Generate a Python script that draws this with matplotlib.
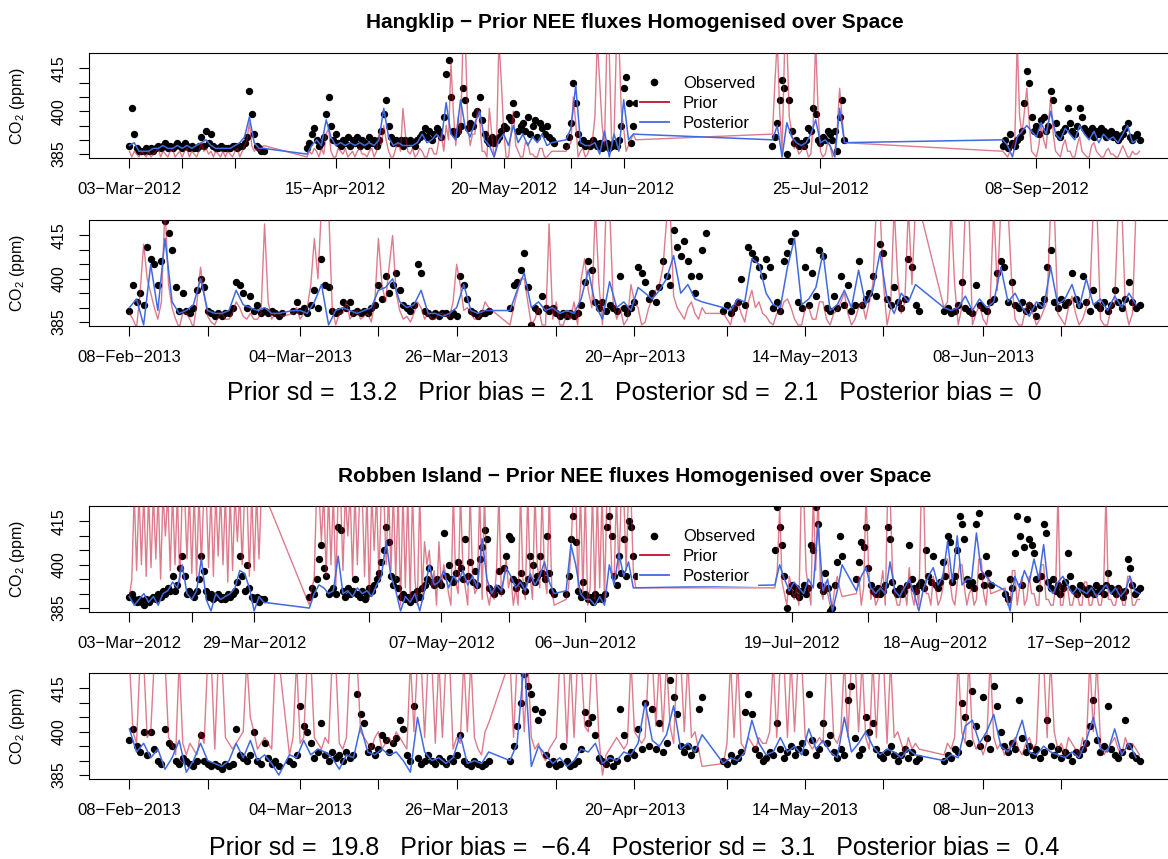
"""Observed vs prior/posterior CO2 at Hangklip and Robben Island (NEE homogenised over space)."""

import numpy as np
import matplotlib

matplotlib.use("Agg")
import matplotlib.pyplot as plt
from matplotlib.lines import Line2D

plt.rcParams["font.family"] = ["Liberation Sans", "DejaVu Sans"]
plt.rcParams["mathtext.fontset"] = "custom"
plt.rcParams["mathtext.rm"] = "Liberation Sans"
plt.rcParams["mathtext.it"] = "Liberation Sans:italic"

OBS_STEP_H = 12
PRIOR_STEP_H = 12
POST_STEP_H = 24

OBS_COLOR = "black"
PRIOR_COLOR = "#C0102E"
POST_COLOR = "#4169E1"

Y_TICKS = [385, 390, 395, 400, 405, 410, 415]
Y_TICK_LABELS = ["385", "", "", "400", "", "", "415"]

# ---- Hangklip 2012 -------------------------------------------------------
P1_ORIGIN = "2012-03-03T00"
P1_START = ["2012-03-03T00", "2012-04-09T00", "2012-06-02T00", "2012-07-15T00", "2012-09-01T00"]
P1_OBS = [
    [388, 401, 392, 387, 386, 386, 386, 387, 386, 387,
     386, 387, 388, 387, 388, 389, 387, 388, 387, 388,
     389, 388, 387, 389, 388, 387, 388, 387, 387, 388,
     391, 388, 393, 389, 392, 388, 387, 387, 388, 387,
     387, 387, 387, 388, 388, 387, 388, 388, 389, 391,
     407, 399, 392, 388, 387, 386, 386],
    [387, 389, 392, 394, 390, 388, 389, 391, 399, 405,
     395, 390, 392, 389, 388, 390, 389, 391, 388, 390,
     389, 391, 388, 390, 389, 388, 391, 389, 390, 388,
     390, 393, 399, 404, 395, 391, 389, 390, 389, 390,
     388, 390, 389, 390, 389, 388, 390, 391, 392, 394,
     391, 393, 390, 392, 394, 393, 391, 398, 413, 418,
     405, 393, 392, 393, 395, 408, 404, 394, 396, 395,
     399, 400, 405, 397, 392, 390, 389, 391, 389, 390,
     391, 393, 395, 394, 398, 397, 403, 399, 393, 395,
     396, 393, 398, 392, 395, 397, 391, 396, 394, 392,
     395, 391, 390, 389],
    [388, 391, 396, 410, 403, 392, 389, 390, 388, 389,
     388, 390, 389, 388, 389, 387, 388, 389, 387, 388,
     389, 388, 390, 395, 408, 412, 403, 389, 395, 403],
    [388, 391, 396, 404, 411, 408, 385, 404, 393, 389,
     390, 388, 389, 388, 390, 394, 393, 401, 399, 390,
     389, 391, 390, 393, 392, 390, 393, 386, 398, 404, 390],
    [388, 390, 387, 392, 389, 388, 390, 391, 393, 403,
     414, 410, 398, 393, 395, 392, 397, 398, 393, 395,
     407, 404, 396, 392, 391, 393, 394, 401, 396, 393,
     392, 395, 401, 398, 394, 393, 392, 394, 391, 393,
     392, 394, 393, 391, 392, 393, 391, 392, 390, 391,
     392, 394, 396, 391, 390, 391, 392, 390],
]
P1_POST = [
    [388, 389, 386, 386, 386, 387, 387, 388, 387, 387, 388, 387, 388, 387, 388,
     389, 390, 388, 387, 387, 387, 387, 388, 389, 391, 398, 389, 387, 387],
    [385, 388, 390, 388, 397, 391, 388, 389, 388, 389, 388, 389, 388, 389, 388,
     390, 401, 391, 388, 389, 388, 388, 388, 389, 392, 389, 390, 392, 390, 403,
     392, 390, 404, 394, 391, 396, 400, 390, 388, 384, 390, 392, 388, 395, 389,
     392, 388, 391, 389, 392, 388, 389],
    [390, 394, 409, 389, 388, 388, 389, 385, 393, 384, 392, 386, 404, 390, 392],
    [390, 395, 384, 396, 391, 389, 388, 389, 392, 397, 389, 390, 388, 384, 401, 389],
    [390, 388, 384, 391, 393, 395, 393, 391, 396, 392, 400, 392, 390, 394, 392,
     390, 395, 392, 390, 393, 389, 392, 390, 391, 389, 392, 395, 389, 390],
]
P1_PRIOR = [
    [386, 384, 386, 385, 384, 386, 385, 384, 386, 384,
     385, 386, 387, 384, 386, 385, 384, 386, 387, 384,
     385, 386, 384, 386, 387, 384, 386, 385, 384, 386,
     389, 386, 387, 385, 386, 384, 386, 385, 384, 386,
     384, 386, 385, 384, 386, 387, 384, 386, 388, 390,
     396, 388, 386, 387, 386, 387, 388],
    [384, 386, 385, 387, 386, 384, 387, 385, 392, 394,
     386, 384, 384, 387, 386, 385, 387, 384, 385, 386,
     384, 386, 387, 385, 385, 384, 386, 387, 384, 386,
     392, 388, 395, 390, 386, 384, 384, 387, 389, 386,
     401, 392, 386, 385, 387, 384, 385, 387, 386, 384,
     384, 387, 387, 385, 385, 390, 392, 386, 395, 390,
     417, 400, 388, 398, 392, 425, 425, 396, 388, 392,
     392, 401, 397, 386, 386, 384, 401, 392, 384, 388,
     425, 410, 393, 384, 384, 392, 400, 388, 386, 384,
     384, 389, 389, 385, 385, 384, 384, 387, 387, 384,
     384, 385, 386, 386],
    [386, 388, 389, 405, 396, 384, 386, 387, 384, 385,
     388, 390, 398, 425, 410, 395, 388, 425, 420, 388,
     392, 425, 425, 400, 394, 386, 388, 390, 392, 390],
    [392, 410, 425, 400, 386, 420, 425, 398, 393, 387,
     388, 385, 386, 388, 387, 384, 385, 396, 425, 400,
     386, 384, 385, 389, 388, 384, 386, 394, 408, 398, 389],
    [386, 385, 384, 386, 388, 390, 425, 398, 392, 400,
     408, 396, 386, 385, 384, 388, 395, 390, 387, 396,
     405, 392, 386, 385, 384, 388, 390, 386, 386, 384,
     384, 388, 391, 386, 385, 384, 384, 388, 389, 386,
     385, 384, 384, 386, 387, 385, 385, 384, 384, 386,
     388, 386, 384, 384, 386, 385, 385, 386],
]
P1_TICK_DATES = ["2012-03-03", "2012-03-14", "2012-03-25", "2012-04-15", "2012-04-26",
                 "2012-05-09", "2012-05-20", "2012-06-03", "2012-06-14", "2012-07-25",
                 "2012-09-08", "2012-09-19"]
P1_TICK_LABELS = ["03-Mar-2012", "", "", "15-Apr-2012", "", "", "20-May-2012", "",
                  "14-Jun-2012", "25-Jul-2012", "08-Sep-2012", ""]

# ---- Hangklip 2013 -------------------------------------------------------
P2_ORIGIN = "2013-02-08T00"
P2_START = ["2013-02-08T00", "2013-03-03T00", "2013-04-02T12", "2013-05-02T12", "2013-06-02T12"]
P2_OBS = [
    [389, 398, 392, 395, 391, 411, 407, 405, 398, 406,
     420, 416, 410, 397, 389, 395, 389, 388, 390, 396,
     400, 397, 389, 388, 387, 388, 387, 388, 388, 390,
     399, 398, 395, 390, 394, 389, 391, 388, 389, 388,
     389, 388, 387, 388],
    [389, 392, 389, 390, 388, 391, 396, 390, 407, 398,
     397, 389, 388, 389, 392, 390, 392, 388, 389, 388,
     389, 388, 390, 391, 398, 393, 401, 395, 398, 402,
     396, 391, 390, 389, 391, 405, 402, 389, 388, 387,
     388, 387, 388, 388, 387, 388, 387, 401, 398, 393,
     389, 388, 387, 388, 388, 389],
    [390, 398, 399, 403, 409, 397, 384, 390, 389, 394,
     390, 389, 390, 388, 387, 388, 387, 388, 387, 388,
     391, 399, 406, 403, 392, 390, 392, 389, 391, 390,
     389, 401, 390, 388, 390, 392, 404, 402, 399, 393,
     395, 392, 397, 406, 401, 398, 417, 411, 408, 413,
     406, 401, 395, 401, 410, 416],
    [389, 391, 388, 390, 392, 400, 391, 411, 409, 407,
     404, 401, 407, 404, 390, 392, 389, 406, 409, 413,
     416, 392, 390, 404, 391, 402, 394, 410, 408, 390,
     389, 394, 390, 401, 391, 398, 389, 391, 406, 391,
     393, 395, 401, 394, 412, 409, 393, 391, 397, 392,
     390, 393, 407, 404, 391, 389],
    [389, 390, 388, 389, 391, 399, 390, 389, 388, 398,
     391, 390, 389, 392, 393, 402, 406, 404, 392, 399,
     391, 390, 392, 389, 391, 390, 387, 391, 393, 404,
     410, 392, 390, 393, 391, 392, 402, 393, 391, 401,
     392, 389, 396, 391, 390, 392, 389, 391, 396, 392,
     390, 393, 399, 392, 390, 391],
]
P2_POST = [
    [390, 393, 384, 405, 389, 414, 392, 388, 389, 391, 400, 389, 388, 388, 389,
     396, 391, 390, 389, 390, 388, 388],
    [389, 389, 388, 392, 398, 384, 389, 390, 389, 388, 389, 390, 396, 397, 400,
     392, 390, 391, 396, 388, 388, 387, 388, 390, 398, 389, 388, 389],
    [389, 396, 402, 390, 392, 389, 390, 388, 389, 388, 393, 403, 391, 386, 399,
     390, 392, 389, 397, 395, 393, 396, 400, 408, 395, 398, 393, 392],
    [390, 389, 393, 392, 407, 405, 395, 391, 390, 404, 414, 391, 393, 397, 409,
     389, 391, 396, 390, 403, 391, 396, 409, 393, 388, 395, 392, 398],
    [390, 389, 390, 394, 389, 393, 390, 392, 404, 392, 395, 390, 387, 392, 390,
     404, 391, 393, 398, 390, 400, 391, 393, 389, 394, 390, 395, 391],
]
P2_PRIOR = [
    [388, 386, 383, 395, 412, 400, 395, 390, 386, 392,
     425, 398, 390, 386, 383, 388, 388, 386, 383, 392,
     404, 395, 387, 385, 384, 387, 388, 386, 386, 388,
     392, 390, 387, 386, 388, 386, 386, 388, 419, 392,
     386, 388, 388, 387],
    [388, 390, 386, 388, 390, 398, 414, 400, 425, 420,
     425, 390, 384, 388, 388, 392, 386, 388, 389, 386,
     387, 388, 385, 392, 414, 398, 392, 404, 415, 395,
     389, 386, 387, 385, 388, 392, 390, 386, 388, 386,
     386, 388, 388, 387, 387, 392, 405, 398, 389, 390,
     388, 386, 386, 388, 392, 390],
    [384, 390, 395, 400, 400, 392, 384, 386, 390, 384,
     384, 419, 386, 392, 384, 384, 388, 386, 392, 384,
     400, 407, 396, 390, 425, 398, 384, 425, 425, 392,
     386, 390, 384, 386, 398, 392, 390, 384, 385, 390,
     393, 396, 398, 404, 420, 425, 394, 390, 388, 386,
     390, 392, 388, 386, 390, 388],
    [388, 386, 384, 390, 392, 388, 385, 392, 396, 390,
     392, 388, 387, 385, 384, 388, 388, 392, 393, 390,
     386, 384, 384, 390, 390, 386, 386, 392, 392, 386,
     384, 388, 389, 392, 395, 388, 384, 386, 390, 392,
     386, 392, 398, 425, 425, 398, 384, 390, 425, 400,
     388, 392, 425, 398, 425, 425],
    [390, 392, 425, 398, 384, 390, 425, 425, 384, 388,
     391, 386, 384, 392, 425, 396, 425, 425, 425, 400,
     386, 384, 384, 390, 392, 388, 384, 386, 389, 392,
     425, 425, 388, 386, 384, 390, 394, 388, 384, 386,
     390, 394, 425, 425, 386, 384, 384, 390, 392, 425,
     425, 390, 384, 388, 425, 425],
]
P2_TICK_DATES = ["2013-02-08", "2013-02-19", "2013-03-04", "2013-03-15", "2013-03-26",
                 "2013-04-09", "2013-04-20", "2013-05-03", "2013-05-14", "2013-05-25",
                 "2013-06-08", "2013-06-19"]
P2_TICK_LABELS = ["08-Feb-2013", "", "04-Mar-2013", "", "26-Mar-2013", "", "20-Apr-2013",
                  "", "14-May-2013", "", "08-Jun-2013", ""]

# ---- Robben Island 2012 --------------------------------------------------
P3_ORIGIN = "2012-03-03T00"
P3_START = ["2012-03-03T00", "2012-04-09T12", "2012-06-02T00", "2012-07-15T12",
            "2012-08-01T12", "2012-09-01T12"]
P3_OBS = [
    [389, 390, 388, 387, 388, 387, 386, 388, 387, 388,
     389, 388, 390, 389, 391, 390, 392, 391, 396, 391,
     393, 399, 403, 396, 390, 391, 390, 389, 391, 395,
     403, 398, 391, 389, 390, 388, 389, 390, 388, 389,
     388, 390, 389, 390, 391, 394, 403, 396, 391, 400,
     392, 389, 388, 389, 387, 388, 388],
    [389, 392, 390, 395, 402, 407, 399, 396, 390, 391,
     392, 390, 413, 412, 391, 389, 392, 390, 391, 395,
     390, 389, 391, 388, 390, 392, 391, 393, 395, 397,
     401, 405, 413, 408, 396, 393, 395, 392, 389, 390,
     388, 389, 387, 390, 388, 391, 389, 392, 393, 395,
     399, 394, 393, 395, 394, 393, 411, 396, 400, 395,
     394, 397, 401, 399, 395, 409, 396, 401, 394, 398,
     393, 402, 406, 412, 409, 392, 391, 390, 392, 398,
     391, 399, 403, 410, 409, 395, 392, 394, 397, 393,
     391, 395, 403, 400, 394, 396, 403, 397, 395, 410,
     397, 391, 390],
    [390, 396, 409, 417, 408, 391, 389, 394, 390, 388,
     389, 387, 390, 388, 389, 388, 390, 413, 417, 410,
     396, 393, 403, 397, 409, 396, 415, 413, 403, 396],
    [405, 420, 413, 407, 396, 385, 391, 393, 390, 392,
     389, 391, 393, 390, 392, 407, 405, 420, 414, 393,
     391, 397, 392, 384, 385, 393, 401, 410, 403],
    [395, 401, 408, 406, 413, 399, 393, 391, 390, 392,
     390, 391, 393, 413, 409, 394, 391, 390, 392, 390,
     391, 393, 407, 395, 392, 391, 393, 394, 392, 405,
     396, 394, 403, 393, 392, 394, 401, 396, 410, 408,
     394, 396, 405, 417, 414, 409, 395, 393, 394, 392,
     414, 418, 396, 393, 403, 397, 393],
    [390, 388, 395, 392, 404, 417, 410, 393, 406, 416,
     409, 407, 404, 395, 392, 396, 414, 411, 394, 392,
     395, 391, 393, 390, 392, 394, 404, 396, 392, 391,
     390, 393, 392, 391, 390, 392, 391, 390, 393, 391,
     392, 390, 393, 397, 392, 391, 390, 392, 391, 389,
     391, 402, 399, 393, 390, 391, 392],
]
P3_POST = [
    [389, 386, 388, 390, 387, 389, 386, 390, 391, 394, 392, 400, 390, 388, 391,
     402, 388, 384, 390, 388, 389, 390, 392, 398, 397, 392, 384, 389, 387],
    [385, 390, 393, 392, 390, 391, 403, 390, 391, 389, 392, 390, 391, 389, 393,
     396, 408, 396, 391, 384, 389, 387, 390, 384, 391, 400, 393, 394, 398, 392,
     396, 394, 398, 393, 396, 392, 409, 395, 390, 393, 391, 399, 396, 392, 394,
     391, 397, 393, 396, 401, 394, 390],
    [391, 407, 400, 390, 388, 388, 386, 389, 386, 400, 393, 404, 396, 401, 392],
    [393, 400, 395, 391, 394, 392, 390, 395, 392, 414, 391, 395, 384, 391, 400],
    [391, 396, 399, 392, 390, 392, 390, 401, 391, 389, 392, 395, 390, 384, 392,
     396, 399, 393, 396, 408, 394, 410, 393, 395, 395, 411, 398, 396, 394],
    [391, 384, 396, 392, 398, 394, 402, 395, 407, 392, 390, 394, 396, 393, 390,
     392, 391, 390, 392, 389, 391, 393, 390, 392, 389, 391, 396, 391, 390],
]
P3_PRIOR = [
    [389, 395, 425, 398, 425, 400, 425, 396, 425, 399,
     425, 402, 425, 395, 425, 410, 425, 398, 425, 400,
     425, 394, 425, 425, 402, 425, 397, 425, 396, 425,
     400, 425, 425, 399, 425, 396, 425, 403, 425, 400,
     425, 394, 425, 398, 425, 408, 425, 400, 425, 425,
     396, 425, 398, 425, 402, 425, 425],
    [386, 392, 395, 425, 425, 408, 425, 396, 425, 400,
     425, 392, 425, 425, 398, 425, 410, 425, 396, 425,
     400, 425, 425, 396, 425, 388, 425, 405, 425, 395,
     425, 425, 400, 425, 398, 425, 395, 425, 386, 425,
     392, 425, 388, 425, 395, 386, 425, 390, 408, 400,
     405, 392, 398, 386, 408, 392, 400, 396, 390, 386,
     425, 394, 390, 425, 398, 392, 386, 425, 396, 390,
     392, 425, 388, 425, 390, 386, 392, 388, 398, 425,
     389, 395, 402, 392, 396, 386, 392, 386, 425, 395,
     388, 425, 396, 388, 425, 400, 392, 425, 396, 390,
     425, 392, 386],
    [388, 392, 405, 425, 425, 392, 425, 390, 425, 386,
     392, 425, 388, 425, 392, 425, 388, 425, 425, 398,
     395, 425, 398, 425, 425, 398, 425, 425, 398, 392],
    [392, 398, 420, 394, 390, 386, 396, 392, 388, 392,
     386, 425, 425, 398, 392, 386, 425, 398, 425, 392,
     388, 394, 390, 386, 386, 392, 396, 392, 389],
    [390, 396, 386, 392, 425, 400, 388, 392, 386, 388,
     392, 398, 386, 425, 425, 398, 390, 386, 386, 392,
     392, 386, 399, 390, 386, 392, 386, 425, 425, 390,
     390, 386, 396, 392, 386, 388, 392, 402, 402, 394,
     388, 386, 394, 400, 400, 392, 386, 390, 392, 386,
     388, 402, 402, 390, 386, 396, 390],
    [392, 386, 386, 398, 398, 386, 392, 396, 386, 388,
     396, 390, 390, 386, 386, 400, 400, 388, 388, 386,
     386, 392, 425, 386, 386, 392, 392, 386, 386, 390,
     390, 386, 386, 394, 394, 386, 386, 390, 390, 386,
     386, 392, 425, 388, 388, 386, 386, 392, 392, 386,
     386, 396, 396, 386, 386, 388, 388],
]
P3_TICK_DATES = ["2012-03-03", "2012-03-16", "2012-03-29", "2012-04-22", "2012-05-07",
                 "2012-05-21", "2012-06-06", "2012-07-19", "2012-08-04", "2012-08-18",
                 "2012-09-03", "2012-09-17"]
P3_TICK_LABELS = ["03-Mar-2012", "", "29-Mar-2012", "", "07-May-2012", "", "06-Jun-2012",
                  "19-Jul-2012", "", "18-Aug-2012", "", "17-Sep-2012"]

# ---- Robben Island 2013 --------------------------------------------------
P4_ORIGIN = "2013-02-08T00"
P4_START = ["2013-02-08T00", "2013-03-02T12", "2013-04-02T12", "2013-05-02T12", "2013-06-02T12"]
P4_OBS = [
    [397, 401, 395, 393, 400, 392, 400, 394, 390, 389,
     401, 396, 395, 390, 389, 391, 390, 389, 388, 390,
     399, 390, 389, 388, 389, 388, 387, 389, 388, 389,
     401, 392, 391, 390, 392, 400, 390, 389, 396, 391,
     389, 390, 388],
    [390, 389, 392, 409, 402, 400, 396, 391, 393, 403,
     392, 390, 393, 391, 392, 390, 393, 391, 392, 413,
     406, 403, 393, 395, 392, 394, 399, 397, 393, 396,
     398, 404, 401, 392, 390, 409, 391, 389, 390, 392,
     390, 389, 391, 390, 389, 391, 390, 392, 399, 390,
     389, 388, 390, 389, 388, 389, 390],
    [390, 395, 402, 410, 420, 416, 413, 408, 404, 407,
     392, 389, 390, 388, 389, 395, 390, 388, 389, 390,
     394, 407, 403, 405, 399, 391, 390, 389, 391, 388,
     390, 408, 399, 391, 393, 392, 401, 394, 410, 395,
     408, 394, 403, 393, 396, 418, 412, 406, 395, 393,
     395, 392, 394, 408, 412],
    [390, 389, 392, 390, 391, 393, 407, 413, 406, 394,
     392, 390, 391, 393, 392, 403, 394, 391, 393, 395,
     392, 394, 396, 393, 413, 397, 392, 394, 403, 396,
     399, 393, 391, 394, 392, 411, 416, 398, 392, 394,
     405, 400, 403, 394, 392, 391, 393, 395, 392, 390,
     392, 394, 391, 393, 390, 391],
    [390, 392, 391, 394, 393, 410, 405, 396, 414, 402,
     395, 412, 398, 394, 416, 409, 400, 395, 393, 396,
     394, 411, 398, 393, 395, 392, 394, 391, 393, 404,
     395, 392, 394, 391, 393, 392, 390, 393, 392, 394,
     396, 402, 411, 397, 393, 395, 409, 394, 392, 391,
     393, 404, 395, 392, 391, 390],
]
P4_POST = [
    [401, 393, 396, 391, 394, 387, 391, 397, 386, 390, 396, 390, 389, 388, 390,
     396, 391, 397, 390, 392, 389, 385],
    [392, 391, 397, 392, 394, 393, 391, 387, 392, 391, 402, 393, 392, 394, 392,
     393, 390, 386, 405, 393, 390, 391, 389, 391, 399, 389, 390, 389, 393],
    [390, 396, 425, 388, 395, 392, 389, 391, 388, 390, 394, 393, 396, 389, 391,
     390, 393, 392, 396, 410, 397, 395, 399, 409, 394, 396, 393, 399],
    [389, 391, 390, 393, 404, 396, 392, 393, 398, 393, 395, 392, 401, 394, 397,
     393, 391, 405, 393, 396, 400, 395, 392, 394, 393, 391, 394, 392],
    [390, 392, 391, 402, 404, 396, 400, 406, 395, 393, 397, 404, 393, 392, 395,
     393, 392, 391, 393, 391, 397, 405, 394, 393, 401, 392, 396, 391],
]
P4_PRIOR = [
    [425, 400, 396, 425, 425, 398, 400, 425, 425, 425,
     425, 398, 396, 392, 425, 396, 392, 396, 394, 392,
     400, 396, 425, 425, 394, 425, 425, 398, 396, 394,
     396, 398, 400, 425, 405, 400, 394, 396, 398, 396,
     394, 425, 425],
    [392, 398, 425, 396, 398, 425, 425, 398, 396, 394,
     398, 396, 425, 425, 396, 394, 398, 425, 425, 425,
     400, 398, 396, 394, 398, 400, 394, 396, 398, 396,
     400, 398, 396, 394, 425, 400, 425, 425, 398, 425,
     425, 396, 425, 398, 425, 425, 394, 398, 396, 425,
     400, 425, 398, 394, 392, 400, 403],
    [425, 398, 425, 425, 400, 425, 398, 394, 396, 392,
     390, 394, 396, 398, 425, 425, 396, 425, 398, 425,
     425, 402, 400, 425, 425, 398, 385, 392, 394, 396,
     398, 396, 394, 396, 425, 400, 398, 396, 398, 425,
     425, 402, 425, 400, 425, 402, 396, 425, 425, 400,
     425, 398, 400, 394, 388],
    [389, 396, 425, 398, 425, 396, 394, 398, 396, 394,
     398, 396, 396, 400, 425, 398, 425, 425, 398, 425,
     400, 425, 425, 398, 396, 394, 396, 398, 396, 425,
     425, 398, 396, 400, 425, 398, 425, 425, 400, 425,
     398, 394, 425, 398, 425, 425, 396, 425, 398, 400,
     396, 392, 398, 394, 396, 394],
    [392, 396, 394, 398, 425, 400, 396, 425, 398, 394,
     396, 392, 396, 425, 398, 394, 396, 392, 394, 396,
     398, 394, 392, 396, 398, 394, 396, 425, 425, 398,
     425, 400, 394, 396, 392, 398, 396, 394, 392, 398,
     394, 425, 400, 425, 396, 392, 394, 396, 398, 394,
     392, 398, 394, 396, 394, 392],
]
P4_TICK_DATES = P2_TICK_DATES
P4_TICK_LABELS = P2_TICK_LABELS

TITLES = ["Hangklip - Prior NEE fluxes Homogenised over Space",
          "Robben Island - Prior NEE fluxes Homogenised over Space"]
HANGKLIP_STATS = [13.2, 2.1, 2.1, 0]
ROBBEN_STATS = [19.8, -6.4, 3.1, 0.4]

FIG_W, FIG_H = 1168, 859
AX_LEFT, AX_RIGHT = 89, 1180


def minus(text: str) -> str:
    return text.replace("-", "\u2212")


def stats_text(vals) -> str:
    sd, bias, psd, pbias = (minus(f"{v:g}") for v in vals)
    return (f"Prior sd =  {sd}   Prior bias =  {bias}   "
            f"Posterior sd =  {psd}   Posterior bias =  {pbias}")


def series_x(starts, blocks, step_h, origin):
    t_origin = np.datetime64(origin, "h")
    xs = []
    for start, vals in zip(starts, blocks):
        offset = (np.datetime64(start, "h") - t_origin) / np.timedelta64(1, "D")
        xs.append(offset + np.arange(len(vals)) * step_h / 24.0)
    return np.concatenate(xs), np.concatenate([np.asarray(v, float) for v in blocks])


def add_panel(fig, top_px, bottom_px, origin, starts, obs, prior, post,
              tick_dates, tick_labels, legend=False):
    ax = fig.add_axes([AX_LEFT / FIG_W, 1 - bottom_px / FIG_H,
                       (AX_RIGHT - AX_LEFT) / FIG_W, (bottom_px - top_px) / FIG_H])
    x_obs, y_obs = series_x(starts, obs, OBS_STEP_H, origin)
    x_pri, y_pri = series_x(starts, prior, PRIOR_STEP_H, origin)
    x_pos, y_pos = series_x(starts, post, POST_STEP_H, origin)

    ax.plot(x_obs, y_obs, "o", color=OBS_COLOR, markersize=5.3, markeredgewidth=0, zorder=2)
    ax.plot(x_pri, y_pri, color=PRIOR_COLOR, alpha=0.55, lw=1.0, zorder=3)
    ax.plot(x_pos, y_pos, color=POST_COLOR, lw=1.1, zorder=4)

    # R-style 4% padding on the x range
    span = x_obs.max() - x_obs.min()
    ax.set_xlim(x_obs.min() - 0.04 * span, x_obs.max() + 0.04 * span)
    ax.set_ylim(385 - 0.04 * 34, 419 + 0.04 * 34)

    t_origin = np.datetime64(origin, "h")
    tick_x = [(np.datetime64(d, "h") - t_origin) / np.timedelta64(1, "D") for d in tick_dates]
    ax.set_xticks(tick_x)
    ax.set_xticklabels([minus(t) for t in tick_labels])
    ax.set_yticks(Y_TICKS)
    ax.set_yticklabels(Y_TICK_LABELS, rotation=90, va="center")
    ax.tick_params(axis="x", length=7, width=0.8, labelsize=12, pad=10)
    ax.tick_params(axis="y", length=7, width=0.8, labelsize=11.5, pad=9)
    for spine in ax.spines.values():
        spine.set_linewidth(0.8)
    ax.set_ylabel("CO$_2$ (ppm)", fontsize=11.5)
    ax.yaxis.set_label_coords((27 - AX_LEFT) / (AX_RIGHT - AX_LEFT), 0.5)

    if legend:
        handles = [
            Line2D([], [], marker="o", ls="none", color=OBS_COLOR, markersize=5.5,
                   markeredgewidth=0),
            Line2D([], [], color=PRIOR_COLOR, lw=1.3),
            Line2D([], [], color=POST_COLOR, lw=1.3),
        ]
        leg = ax.legend(handles, ["Observed", "Prior", "Posterior"], loc="upper left",
                        bbox_to_anchor=((638 - AX_LEFT) / (AX_RIGHT - AX_LEFT), 0.795),
                        borderaxespad=0, fontsize=12, frameon=True, fancybox=False,
                        framealpha=1, facecolor="white", edgecolor="white",
                        handlelength=1.75, handletextpad=0.85, borderpad=0.1,
                        labelspacing=0.28)
        leg.set_zorder(10)
    return ax


def main() -> None:
    fig = plt.figure(figsize=(FIG_W / 100, FIG_H / 100), dpi=100)

    add_panel(fig, 53, 158, P1_ORIGIN, P1_START, P1_OBS, P1_PRIOR, P1_POST,
              P1_TICK_DATES, P1_TICK_LABELS, legend=True)
    add_panel(fig, 220, 326, P2_ORIGIN, P2_START, P2_OBS, P2_PRIOR, P2_POST,
              P2_TICK_DATES, P2_TICK_LABELS)
    add_panel(fig, 506, 612, P3_ORIGIN, P3_START, P3_OBS, P3_PRIOR, P3_POST,
              P3_TICK_DATES, P3_TICK_LABELS, legend=True)
    add_panel(fig, 673, 779, P4_ORIGIN, P4_START, P4_OBS, P4_PRIOR, P4_POST,
              P4_TICK_DATES, P4_TICK_LABELS)

    cx = (AX_LEFT + AX_RIGHT) / 2 / FIG_W
    for title, y_px in zip(TITLES, [22, 477]):
        fig.text(cx, 1 - y_px / FIG_H, minus(title), ha="center", va="center",
                 fontsize=15, fontweight="bold")
    for vals, y_px in zip([HANGKLIP_STATS, ROBBEN_STATS], [393, 848]):
        fig.text(cx, 1 - y_px / FIG_H, stats_text(vals), ha="center", va="center",
                 fontsize=18)

    fig.savefig("out.png", dpi=100)
    plt.close(fig)


if __name__ == "__main__":
    main()
